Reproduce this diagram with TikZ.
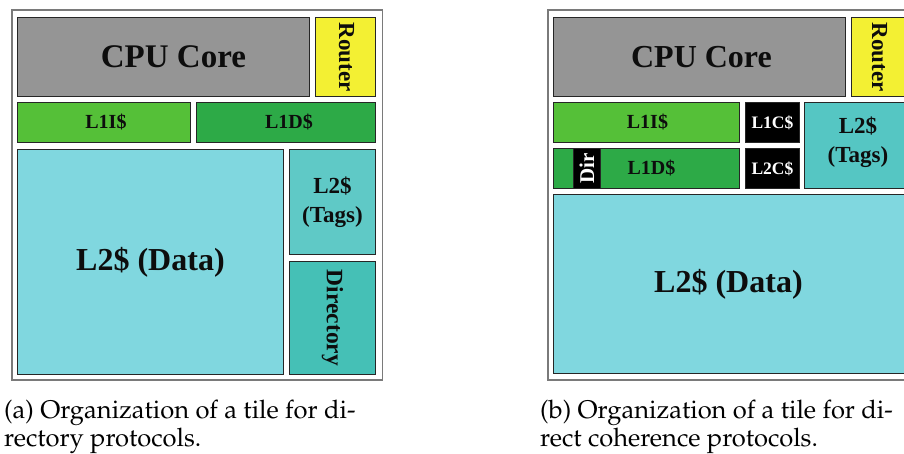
\documentclass[tikz,border=0pt]{standalone}
\usepackage[T1,TU]{fontenc}
\usepackage{fontspec}
\newfontfamily\tnr{Liberation Serif}
\newcommand\capf{\fontencoding{T1}\fontfamily{ppl}\fontsize{25.5}{30}\selectfont}
\newcommand\bx[1]{\tnr\bfseries\fontsize{#1}{#1}\selectfont}
\definecolor{cpugray}{HTML}{959595}
\definecolor{routery}{HTML}{F3F033}
\definecolor{lonei}{HTML}{55C038}
\definecolor{loned}{HTML}{2DAA47}
\definecolor{ltwod}{HTML}{80D7DF}
\definecolor{ltwot}{HTML}{5FC9C6}
\definecolor{ltwotb}{HTML}{55C6C3}
\definecolor{dircol}{HTML}{45C0B6}
\definecolor{framecol}{HTML}{7A7A7A}
\begin{document}
\begin{tikzpicture}[x=1pt,y=-1pt,
  blk/.style={draw=black!85, line width=0.9pt, inner sep=0pt, anchor=north west},
  frm/.style={draw=framecol, line width=1.6pt, inner sep=0pt, anchor=north west},
  txt/.style={inner sep=0pt, align=center, text=black!95},
  captxt/.style={inner sep=0pt, anchor=base west}]
\useasboundingbox (0,0) rectangle (904,454);
\clip (0,0) rectangle (904,454);
\fill[white] (0,0) rectangle (904,454);
% ---------- panel (a) ----------
\node[frm, minimum width=370.5pt, minimum height=369.5pt] (frameA) at (11,9.5) {};
\node[blk, fill=cpugray, minimum width=292pt, minimum height=79pt] (cpuA) at (17,17) {};
\node[blk, fill=routery, minimum width=60pt, minimum height=79pt] (routerA) at (315,17) {};
\node[blk, fill=lonei, minimum width=173pt, minimum height=40pt] (l1iA) at (17,102) {};
\node[blk, fill=loned, minimum width=179pt, minimum height=40pt] (l1dA) at (196,102) {};
\node[blk, fill=ltwod, minimum width=266pt, minimum height=225pt] (l2dA) at (17,149) {};
\node[blk, fill=ltwot, minimum width=86pt, minimum height=105pt] (l2tA) at (289,149) {};
\node[blk, fill=dircol, minimum width=86pt, minimum height=113pt] (dirA) at (289,261) {};
\node[txt, font=\bx{33}] (cpuAt) at ([xshift=10pt]cpuA.center) {CPU Core};
\node[txt, font=\bx{23}, rotate=-90] (routerAt) at ([xshift=1pt]routerA.center) {Router};
\node[txt, font=\bx{20}] (l1iAt) at ([xshift=2pt]l1iA.center) {L1I\$};
\node[txt, font=\bx{20}] (l1dAt) at ([xshift=3pt]l1dA.center) {L1D\$};
\node[txt, font=\bx{32}] (l2dAt) at (l2dA.center) {L2\$ (Data)};
\node[txt, font={\bx{23}\baselineskip=29pt}] (l2tAt) at (l2tA.center) {L2\$\\(Tags)};
\node[txt, font=\bx{23.5}, rotate=-90] (dirAt) at (dirA.center) {Directory};
% ---------- panel (b) ----------
\node[frm, minimum width=370.5pt, minimum height=369.5pt] (frameB) at (547,9.5) {};
\node[blk, fill=cpugray, minimum width=292pt, minimum height=79pt] (cpuB) at (553,17) {};
\node[blk, fill=routery, minimum width=60pt, minimum height=79pt] (routerB) at (851,17) {};
\node[blk, fill=lonei, minimum width=186pt, minimum height=40pt] (l1iB) at (553,102) {};
\node[blk, fill=loned, minimum width=186pt, minimum height=40pt] (l1dB) at (553,148) {};
\node[blk, fill=black, minimum width=27pt, minimum height=40pt] (dirB) at (573,148) {};
\node[blk, fill=black, minimum width=54pt, minimum height=40pt] (l1cB) at (745,102) {};
\node[blk, fill=black, minimum width=54pt, minimum height=40pt] (l2cB) at (745,148) {};
\node[blk, fill=ltwotb, minimum width=107pt, minimum height=86pt] (l2tB) at (804,102) {};
\node[blk, fill=ltwod, minimum width=358pt, minimum height=179pt] (l2dB) at (553,194) {};
\node[txt, font=\bx{32}] (cpuBt) at ([xshift=2pt]cpuB.center) {CPU Core};
\node[txt, font=\bx{23}, rotate=-90] (routerBt) at ([xshift=-2pt]routerB.center) {Router};
\node[txt, font=\bx{20}] (l1iBt) at ([xshift=1pt]l1iB.center) {L1I\$};
\node[txt, font=\bx{20}] (l1dBt) at ([xshift=5pt]l1dB.center) {L1D\$};
\node[txt, font=\bx{21}, text=white, rotate=90] (dirBt) at (dirB.center) {Dir};
\node[txt, font=\bx{17.5}, text=white] (l1cBt) at (l1cB.center) {L1C\$};
\node[txt, font=\bx{17.5}, text=white] (l2cBt) at (l2cB.center) {L2C\$};
\node[txt, font={\bx{23}\baselineskip=29pt}] (l2tBt) at ([yshift=3pt]l2tB.center) {L2\$\\(Tags)};
\node[txt, font=\bx{32}] (l2dBt) at ([xshift=-4pt]l2dB.center) {L2\$ (Data)};
% ---------- captions ----------
\node[captxt] (capA1) at (4,418) {\capf (a) Organization of a tile for di-};
\node[captxt] (capA2) at (4,446) {\capf rectory protocols.};
\node[captxt] (capB1) at (540,418) {\capf (b) Organization of a tile for di-};
\node[captxt] (capB2) at (540,446) {\capf rect coherence protocols.};
\end{tikzpicture}
\end{document}
